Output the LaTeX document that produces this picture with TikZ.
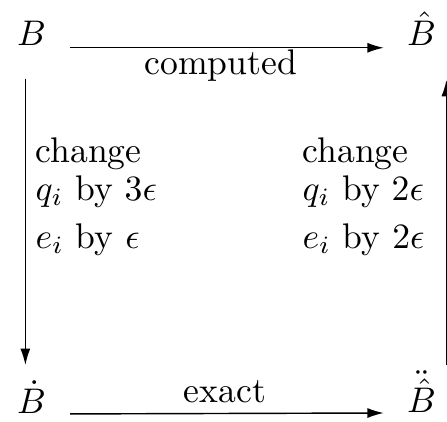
\documentclass[tikz,border=0pt]{standalone}
\usetikzlibrary{arrows.meta}
\begin{document}
\begin{tikzpicture}[arr/.style={-{Latex[length=4.6pt,width=2.8pt]}}, corner/.style={anchor=base},
  note/.style={anchor=north west,inner sep=0pt,align=left,font=\fontsize{10}{10.6}\selectfont}]
\useasboundingbox (0,0) rectangle (4.412,4.165);
\node[corner] (B) at (0.31,3.711) {$B$};
\node[corner] (Bh) at (4.16,3.711) {$\hat{B}$};
\node[corner] (Bd) at (0.31,0.079) {$\dot{B}$};
\node[corner] (Bdh) at (4.16,0.089) {$\ddot{\hat{B}}$};
\draw[arr,shorten <=3.3pt,shorten >=3pt] ([yshift=-0.5pt]B.base east) -- ([yshift=-0.5pt]Bh.base west);
\draw[arr,shorten <=3.3pt,shorten >=3pt] (Bd.base east) -- (Bdh.base west);
\draw[arr,shorten <=5.6pt,shorten >=1pt] ([xshift=-1.7pt]B.south) -- ([xshift=-1.7pt]Bd.north);
\draw[arr,shorten <=-2pt,shorten >=6pt] ([xshift=7pt]Bdh.north) -- ([xshift=7pt]Bh.south);
\node[corner] (top) at (2.18,3.425) {computed};
\node[corner] (bot) at (2.22,0.1875) {exact};
% the two columns
\node[note] (left) at (0.345,2.813) {change\\ $q_i$ by $3\epsilon$\\[3pt] $e_i$ by $\epsilon$};
\node[note] (right) at (2.98,2.813) {change\\ $q_i$ by $2\epsilon$\\[3pt] $e_i$ by $2\epsilon$};
\end{tikzpicture}
\end{document}
